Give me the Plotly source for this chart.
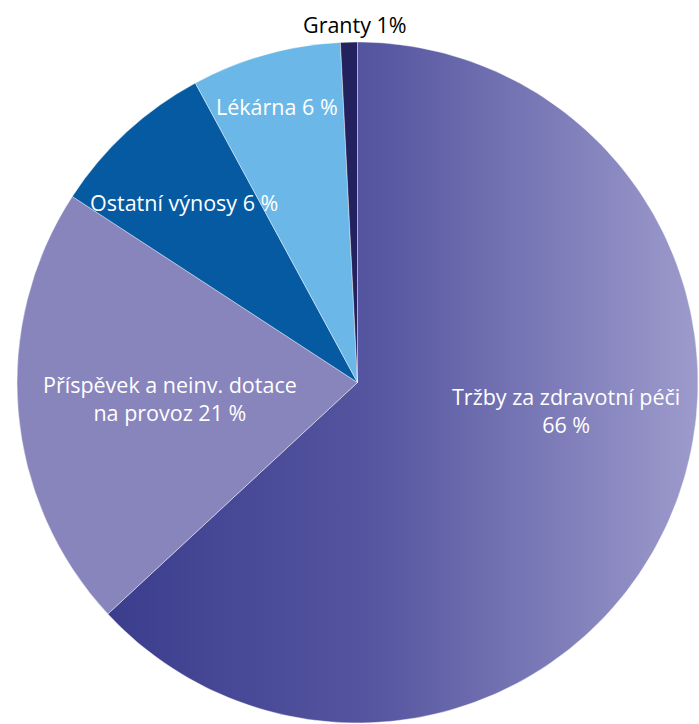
import numpy as np
import plotly.graph_objects as go

labels = ["Tržby za zdravotní péči", "Příspěvek a neinv. dotace na provoz",
          "Ostatní výnosy", "Lékárna", "Granty"]
values = [63.1, 21.1, 7.9, 7.1, 0.8]
label_texts = ["Tržby za zdravotní péči<br>66 %", "Příspěvek a neinv. dotace<br>na provoz 21 %",
               "Ostatní výnosy 6 %", "Lékárna 6 %", "Granty 1%"]
colors = ["rgba(0,0,0,0)", "#8884bc", "#065aa1", "#6bb8e8", "#24215f"]

W, H = 699, 724
cx, cy, R = 357.5, 382.5, 340.5
dom_x = [(cx - R) / W, (cx + R) / W]
dom_y = [(H - cy - R) / H, (H - cy + R) / H]

fig = go.Figure()

# gradient wedge for the first slice, computed from its value
total = sum(values)
a_end = 2 * np.pi * values[0] / total
ang = np.linspace(0, a_end, 200)
xs = np.concatenate([[0], np.sin(ang), [0]])
ys = np.concatenate([[0], np.cos(ang), [0]])
fig.add_trace(go.Scatter(x=xs, y=ys, mode="lines", line=dict(width=0),
                         fill="toself",
                         fillgradient=dict(type="horizontal",
                                           colorscale=[[0, "#3b3d8d"], [0.45, "#5555a0"], [1, "#9d9bcc"]]),
                         hoverinfo="skip", showlegend=False))

fig.add_trace(go.Pie(labels=labels, values=values, sort=False, direction="clockwise",
                     rotation=0, textinfo="none", hoverinfo="label+percent",
                     marker=dict(colors=colors, line=dict(color="rgba(255,255,255,0.7)", width=0.6)),
                     domain=dict(x=dom_x, y=dom_y), showlegend=False))

fig.update_xaxes(domain=dom_x, range=[-1, 1], visible=False, fixedrange=True)
fig.update_yaxes(domain=dom_y, range=[-1, 1], visible=False, fixedrange=True)

label_pos = [(566, 410), (170, 398), (184, 202), (277, 107), (355, 25)]
label_colors = ["white", "white", "white", "white", "black"]
for t, (px, py), c in zip(label_texts, label_pos, label_colors):
    fig.add_annotation(x=px / W, y=1 - py / H, xref="paper", yref="paper",
                       text=t, showarrow=False, xanchor="center", yanchor="middle",
                       font=dict(family="Open Sans", size=21.5, color=c), align="center")

fig.update_layout(width=W, height=H, margin=dict(l=0, r=0, t=0, b=0),
                  paper_bgcolor="white", plot_bgcolor="rgba(0,0,0,0)")
fig.write_html("out.html", config={"displayModeBar": False},
               post_script="document.body.style.margin='0';document.body.style.overflow='hidden';")
